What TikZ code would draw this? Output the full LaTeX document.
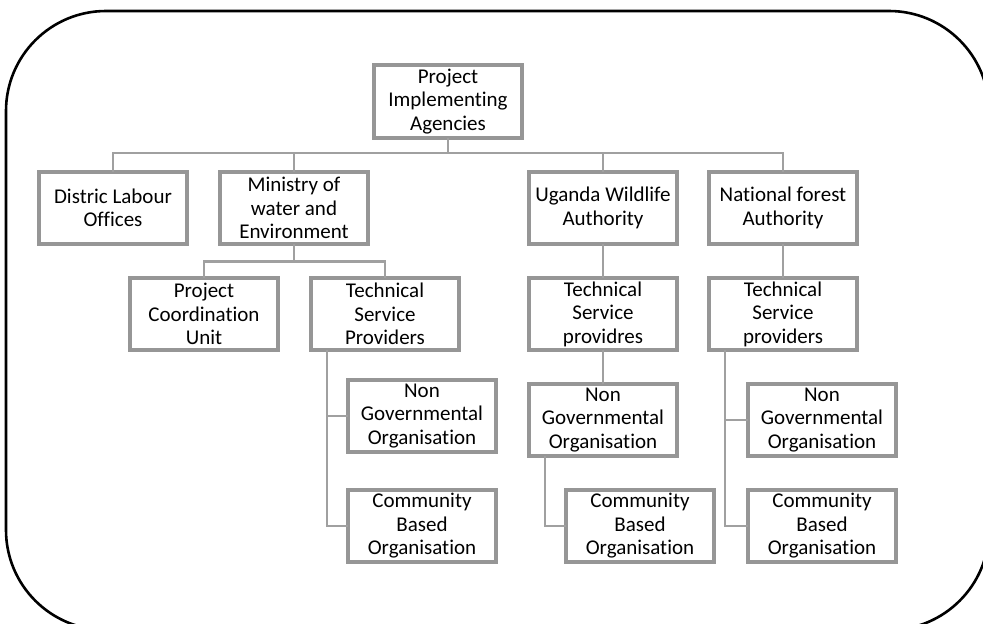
\documentclass[tikz,border=0pt]{standalone}
\usepackage{fontspec}
\setmainfont{Carlito}[Ligatures={NoCommon}]
\definecolor{boxgray}{RGB}{150,150,150}
\definecolor{linegray}{RGB}{160,160,160}
\tikzset{
  orgbox/.style={draw=boxgray, line width=3.6pt, fill=white, minimum width=147.5pt,
    minimum height=72.5pt, inner sep=0pt, outer sep=0pt, align=center,
    font=\fontsize{21pt}{23.5pt}\selectfont},
  conn/.style={draw=linegray, line width=2.2pt}
}
\begin{document}
\begin{tikzpicture}[x=1pt,y=-1pt]
\useasboundingbox (0,0) rectangle (983,624);
\clip (0,0) rectangle (983,624);
\fill[white] (0,0) rectangle (983,624);
\draw[line width=2.6pt, rounded corners=100pt] (6,11) rectangle (989,630);

% nodes
\node[orgbox] (root) at (448,101.5) {Project\\Implementing\\Agencies};
\node[orgbox] (dlo) at (113,208) {Distric Labour\\Offices};
\node[orgbox] (mwe) at (294,208) {Ministry of\\water and\\Environment};
\node[orgbox] (uwa) at (603,208) {Uganda Wildlife\\Authority};
\node[orgbox] (nfa) at (783,208) {National forest\\Authority};
\node[orgbox] (pcu) at (204,314) {Project\\Coordination\\Unit};
\node[orgbox] (tspm) at (385,314) {Technical\\Service\\Providers};
\node[orgbox] (tspu) at (603,314) {Technical\\Service\\providres};
\node[orgbox] (tspn) at (783,314) {Technical\\Service\\providers};
\node[orgbox] (ngom) at (422,416) {Non\\Governmental\\Organisation};
\node[orgbox] (cbom) at (422,526) {Community\\Based\\Organisation};
\node[orgbox] (ngou) at (603,420) {Non\\Governmental\\Organisation};
\node[orgbox] (cbou) at (640,526) {Community\\Based\\Organisation};
\node[orgbox] (ngon) at (822,420) {Non\\Governmental\\Organisation};
\node[orgbox] (cbon) at (822,526) {Community\\Based\\Organisation};

% bus coordinates
\coordinate (bus1) at (0,153);
\coordinate (bus2) at (0,261.5);
\coordinate (tm) at ([xshift=16pt]tspm.south west);
\coordinate (um) at ([xshift=16pt]ngou.south west);
\coordinate (nm) at ([xshift=16pt]tspn.south west);

% connectors
\draw[conn] (root.south) -- (root.south |- bus1);
\draw[conn] (dlo.north) |- (root.south |- bus1);
\draw[conn] (mwe.north) |- (root.south |- bus1);
\draw[conn] (uwa.north) |- (root.south |- bus1);
\draw[conn] (nfa.north) |- (root.south |- bus1);

\draw[conn] (mwe.south) -- (mwe.south |- bus2);
\draw[conn] (pcu.north) |- (mwe.south |- bus2);
\draw[conn] (tspm.north) |- (mwe.south |- bus2);

\draw[conn] (tm) |- (ngom.west);
\draw[conn] (tm) |- (cbom.west);

\draw[conn] (uwa.south) -- (tspu.north);
\draw[conn] (tspu.south) -- (ngou.north);
\draw[conn] (um) |- (cbou.west);

\draw[conn] (nfa.south) -- (tspn.north);
\draw[conn] (nm) |- (ngon.west);
\draw[conn] (nm) |- (cbon.west);
\end{tikzpicture}
\end{document}
